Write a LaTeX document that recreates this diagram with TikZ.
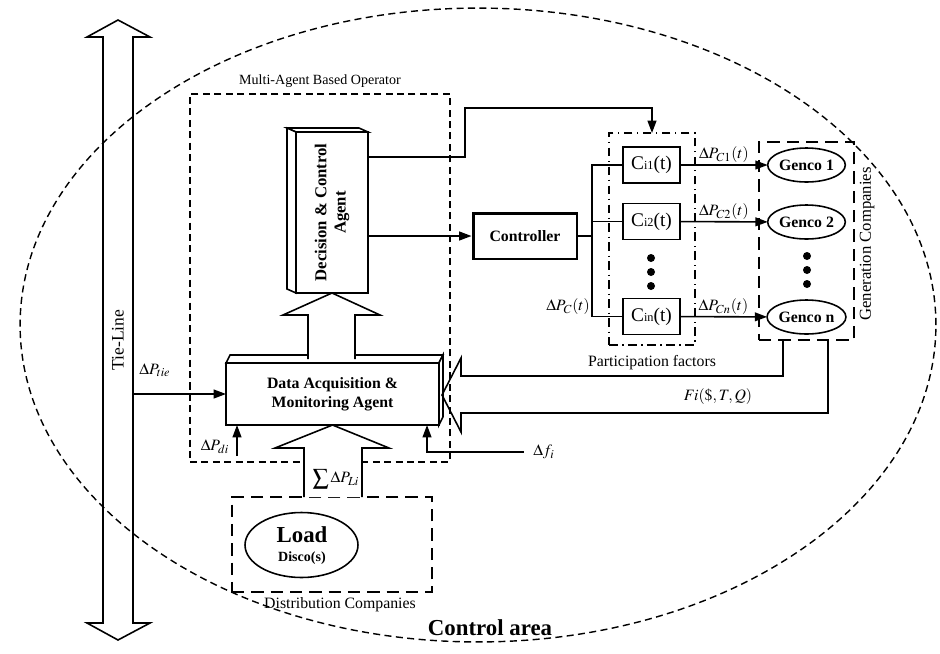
\documentclass[tikz,border=0pt]{standalone}
\usepackage{mathptmx}
\usepackage{fontspec}
\setmainfont{Liberation Serif}
\usetikzlibrary{arrows.meta,positioning,shapes.geometric,calc}
\tikzset{
    agent/.style={
        draw,
        line width=0.9pt,
        fill=white,
        inner sep=0pt,
        outer sep=0pt
    },
    cbox/.style={
        draw,
        line width=0.9pt,
        inner sep=0pt,
        outer sep=0pt,
        minimum width=11.4mm,
        minimum height=7.2mm,
        font=\fontsize{11}{12}\selectfont
    },
    genco/.style={
        draw,
        ellipse,
        line width=0.9pt,
        inner sep=0pt,
        outer sep=0pt,
        minimum width=15.4mm,
        minimum height=6.8mm,
        font=\fontsize{9}{10}\selectfont\bfseries
    },
    zone/.style={
        draw,
        inner sep=0pt,
        outer sep=0pt,
        line width=0.7pt,
        dash pattern=on 4pt off 2.5pt
    },
    bigzone/.style={zone, line width=1.2pt, dash pattern=on 7pt off 4pt},
    flow/.style={-{Triangle[length=7pt,width=5pt]}, line width=0.9pt},
    hollow/.style={draw, line width=0.9pt, line join=miter},
    lbl/.style={inner sep=1pt, font=\fontsize{9}{10}\selectfont}
}
\newcommand{\cfac}[1]{C{\fontsize{7}{8}\selectfont #1}(t)}

\begin{document}
\begin{tikzpicture}[x=0.02cm, y=-0.02cm]
    \useasboundingbox (0,0) rectangle (940,653);

    % control area
    \draw[line width=0.8pt, dash pattern=on 4pt off 2.5pt] (478,325) ellipse [x radius=9.16cm, y radius=6.34cm];
    \node[font=\fontsize{13}{14}\selectfont\bfseries] (area) at (490,628) {Control area};

    % tie-line
    \draw[hollow] (103,37) -- (87,37) -- (118,20) -- (150,37) -- (133,37) -- (133,623)
        -- (150,623) -- (118,640) -- (87,623) -- (103,623) -- cycle;
    \node[rotate=90, font=\fontsize{10}{11}\selectfont] (tie) at (118,340) {Tie-Line};
    \coordinate (tieout) at (133,394);

    % operator
    \node[zone, minimum width=52mm, minimum height=73.6mm] (mabo) at (320,278) {};
    \node[lbl, font=\fontsize{8}{9}\selectfont] (mabolbl) at (320,81) {Multi-Agent Based Operator};

    \node[agent, minimum width=14.4mm, minimum height=32.2mm] (dca) at (332,212.5) {};
    \draw[agent] (dca.north west) -- ++(-9,-4) -- ($(dca.north east)+(-9,-4)$) -- (dca.north east) -- cycle;
    \draw[agent] (dca.north west) -- ++(-9,-4) -- ($(dca.south west)+(-9,-4)$) -- (dca.south west) -- cycle;
    \node[rotate=90, align=center, font=\fontsize{9.5}{11}\selectfont\bfseries] (dcalbl) at (dca) {Decision \& Control\\Agent};

    \node[agent, minimum width=42.6mm, minimum height=12.4mm, align=center,
        font=\fontsize{9}{11}\selectfont\bfseries] (dama) at (332.5,394) {Data Acquisition \&\\Monitoring Agent};
    \draw[agent] (dama.north west) -- ++(4,-8) -- ($(dama.north east)+(4,-8)$) -- (dama.north east) -- cycle;
    \draw[agent] (dama.north east) -- ++(4,-8) -- ($(dama.south east)+(4,-8)$) -- (dama.south east) -- cycle;

    % dama -> dca
    \draw[hollow, fill=white] (308,359) -- (308,315) -- (283,315) -- (dca.south) -- (380,315) -- (355,315) -- (355,359);

    % controller and participation factors
    \node[draw, line width=1.7pt, minimum width=20.8mm, minimum height=9.2mm, inner sep=0pt,
        font=\fontsize{9}{10}\selectfont\bfseries] (ctrl) at (525,236) {Controller};
    \node[draw, inner sep=0pt, outer sep=0pt, line width=0.8pt, minimum width=17.2mm, minimum height=42.4mm,
        dash pattern=on 5pt off 2.5pt on 0.8pt off 2.5pt] (pf) at (652,239) {};
    \node[lbl] (pflbl) at (652,363) {Participation factors};

    \node[cbox] (c1) at (651.5,165) {\cfac{i1}};
    \node[cbox] (c2) at (651.5,221.5) {\cfac{i2}};
    \node[cbox] (cn) at (651.5,316.5) {\cfac{in}};

    % generation companies
    \node[bigzone, minimum width=19mm, minimum height=39.6mm] (gc) at (806.5,241) {};
    \node[rotate=90, lbl, font=\fontsize{9.5}{10}\selectfont] (gclbl) at (867,244) {Generation Companies};
    \node[genco] (g1) at (806.5,165) {Genco 1};
    \node[genco] (g2) at (806.5,222) {Genco 2};
    \node[genco] (gn) at (806.5,317) {Genco n};

    \foreach \y in {258,272,286} {
        \fill (651,\y) circle (0.08cm);
        \fill (807,\y-2) circle (0.08cm);
    }

    \draw[flow] (dca.east |- ctrl.west) -- (ctrl.west);
    \draw[flow] ($(dca.north east)!0.155!(dca.south east)$) -- ++(97,0) -- ++(0,-49) -| (pf.north);

    \coordinate (bus) at (592,236);
    \draw[line width=0.9pt] (ctrl.east) -- (bus);
    \draw[line width=0.9pt] (c1.west) -- (bus |- c1) -- (bus |- cn) -- (cn.west);
    \draw[line width=0.9pt] (bus |- c2) -- (c2.west);
    \node[lbl] (lblpc) at (568,307) {$\Delta P_C(t)$};

    \draw[flow] (c1) -- (g1) node[midway, above, lbl] (lblp1) {$\Delta P_{C1}(t)$};
    \draw[flow] (c2) -- (g2) node[midway, above, lbl] (lblp2) {$\Delta P_{C2}(t)$};
    \draw[flow] (cn) -- (gn) node[midway, above, lbl] (lblpn) {$\Delta P_{Cn}(t)$};

    % feedback from gencos
    \draw[hollow] (783,340) -- (783,376) -- (461,376) -- (461,358) -- (442,395) -- (461,432) -- (461,413) -- (828,413) -- (828,340);
    \node[lbl] (lblfi) at (718,397) {$Fi(\$,T,Q)$};

    % inputs
    \draw[flow] (tieout) -- (tieout -| dama.west);
    \node[lbl] (lbltie) at (155,370) {$\Delta P_{tie}$};

    \coordinate (pdi) at (237,456);
    \draw[flow] (pdi) -- (pdi |- dama.south);
    \node[lbl] (lbldi) at (215,447) {$\Delta P_{di}$};

    \node[lbl] (lbldf) at (544,452) {$\Delta f_i$};
    \draw[flow] ([xshift=-1.5mm]lbldf.west) -| ($(dama.south west)+(201,0)$);

    % distribution companies
    \node[bigzone, minimum width=40mm, minimum height=19mm] (dist) at (332,544.5) {};
    \node[lbl] (distlbl) at (340,605) {Distribution Companies};
    \node[draw, ellipse, line width=0.9pt, minimum width=22.6mm, minimum height=13mm] (load) at (301.5,545) {};
    \node[font=\fontsize{13}{14}\selectfont\bfseries, inner sep=0pt] (loadlbl) at (302,535) {Load};
    \node[font=\fontsize{8}{9}\selectfont\bfseries, inner sep=0pt] (discolbl) at (302,558) {Disco(s)};

    \draw[hollow, fill=white] (304,497) -- (304,448) -- (275,448) -- (dama.south) -- (389,448) -- (362,448) -- (362,497);
    \node[lbl] (lblsum) at (336,479) {$\displaystyle\sum\Delta P_{Li}$};
\end{tikzpicture}
\end{document}
